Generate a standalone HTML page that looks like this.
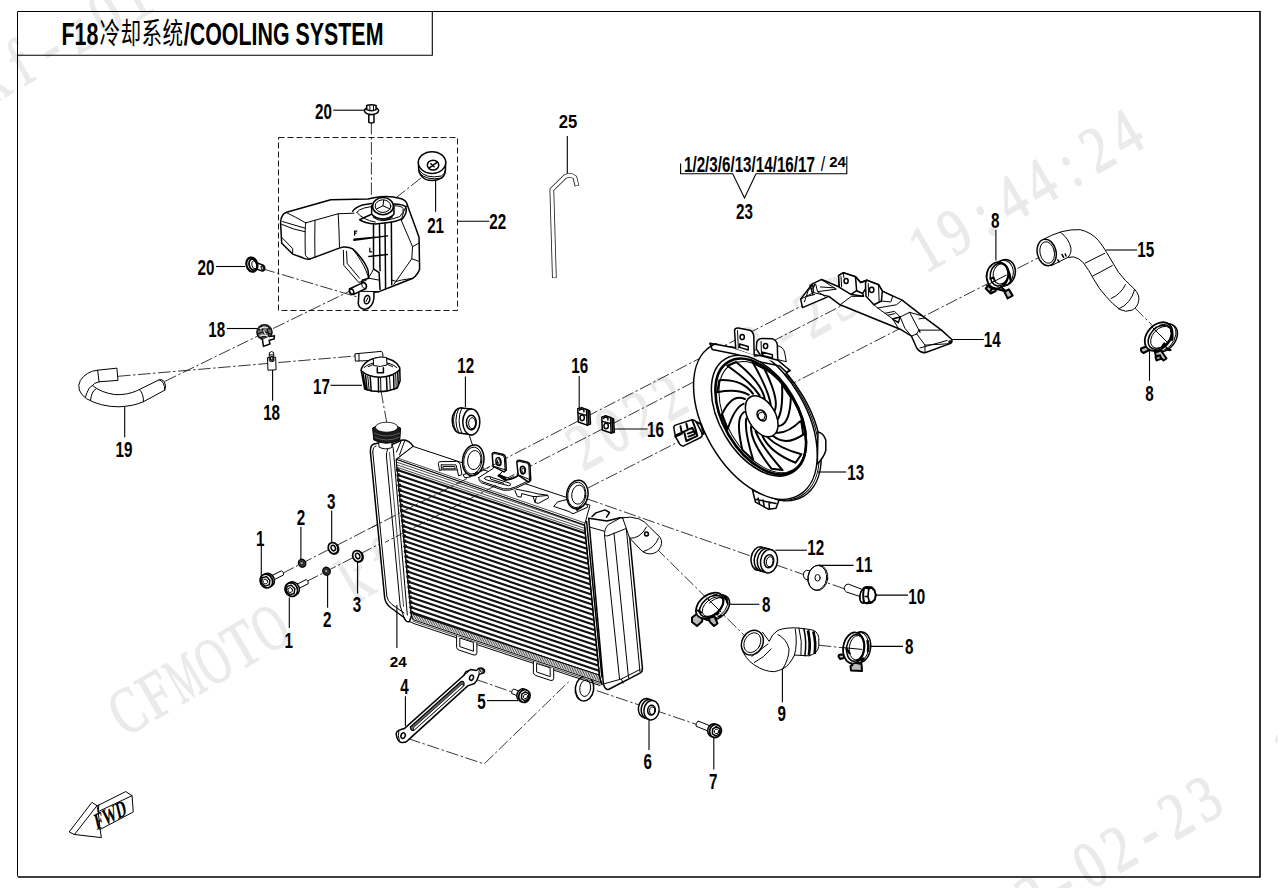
<!DOCTYPE html>
<html><head><meta charset="utf-8"><title>F18 Cooling System</title>
<style>
html,body{margin:0;padding:0;background:#fff;}
body{width:1278px;height:888px;overflow:hidden;font-family:"Liberation Sans",sans-serif;}
svg{display:block;position:absolute;left:0;top:0;}
svg text{font-family:"Liberation Sans",sans-serif;fill:#000;}
.p,.pw,.pt,.ptw,.pk,.pkw,.bk,.g3{vector-effect:non-scaling-stroke;}
.p{fill:none;stroke:#000;stroke-width:1;stroke-linejoin:round;stroke-linecap:round;}
.pw{fill:#fff;stroke:#000;stroke-width:1;stroke-linejoin:round;stroke-linecap:round;}
.pt{fill:none;stroke:#000;stroke-width:0.7;stroke-linejoin:round;stroke-linecap:round;}
.ptw{fill:#fff;stroke:#000;stroke-width:0.7;stroke-linejoin:round;stroke-linecap:round;}
.pk{fill:none;stroke:#000;stroke-width:1.5;stroke-linejoin:round;stroke-linecap:round;}
.pkw{fill:#fff;stroke:#000;stroke-width:1.5;stroke-linejoin:round;stroke-linecap:round;}
.g3{fill:none;stroke:#333;stroke-width:0.8;stroke-linejoin:round;stroke-linecap:round;}
.bk{fill:#000;stroke:#000;stroke-width:0.5;}
.ld{fill:none;stroke:#000;stroke-width:1.1;}
.dd{fill:none;stroke:#111;stroke-width:0.85;stroke-dasharray:12.5 2.6 2.4 2.6;}
.ds{fill:none;stroke:#000;stroke-width:0.9;stroke-dasharray:6 3;}
.wm text{font-family:"Liberation Serif",serif;fill:#eaeaea;stroke:#eaeaea;stroke-width:1.2px;}
svg text.cjk{font-family:"Liberation Sans","Noto Sans CJK SC",sans-serif;}
</style></head><body>
<svg width="1278" height="888" viewBox="0 0 1278 888">
<rect width="1278" height="888" fill="#fff"/>
<!-- 00_wm.py -->
<g class="wm"><g transform="translate(124,738) rotate(-30.08)"><text transform="translate(16.5,0) scale(0.715,1)" text-anchor="middle" font-size="66">C</text><text transform="translate(49.4,0) scale(0.800,1)" text-anchor="middle" font-size="66">F</text><text transform="translate(82.4,0) scale(0.536,1)" text-anchor="middle" font-size="66">M</text><text transform="translate(115.4,0) scale(0.660,1)" text-anchor="middle" font-size="66">O</text><text transform="translate(148.3,0) scale(0.780,1)" text-anchor="middle" font-size="66">T</text><text transform="translate(181.3,0) scale(0.660,1)" text-anchor="middle" font-size="66">O</text><text transform="translate(280.2,0) scale(0.800,1)" text-anchor="middle" font-size="66">k</text><text transform="translate(313.1,0) scale(0.800,1)" text-anchor="middle" font-size="66">f</text><text transform="translate(346.1,0) scale(0.800,1)" text-anchor="middle" font-size="66">-</text><text transform="translate(379.0,0) scale(0.800,1)" text-anchor="middle" font-size="66">z</text><text transform="translate(412.0,0) scale(0.800,1)" text-anchor="middle" font-size="66">0</text><text transform="translate(445.0,0) scale(0.800,1)" text-anchor="middle" font-size="66">1</text><text transform="translate(543.8,0) scale(0.800,1)" text-anchor="middle" font-size="66">2</text><text transform="translate(576.8,0) scale(0.800,1)" text-anchor="middle" font-size="66">0</text><text transform="translate(609.8,0) scale(0.800,1)" text-anchor="middle" font-size="66">2</text><text transform="translate(642.7,0) scale(0.800,1)" text-anchor="middle" font-size="66">2</text><text transform="translate(675.7,0) scale(0.800,1)" text-anchor="middle" font-size="66">-</text><text transform="translate(708.6,0) scale(0.800,1)" text-anchor="middle" font-size="66">0</text><text transform="translate(741.6,0) scale(0.800,1)" text-anchor="middle" font-size="66">2</text><text transform="translate(774.6,0) scale(0.800,1)" text-anchor="middle" font-size="66">-</text><text transform="translate(807.5,0) scale(0.800,1)" text-anchor="middle" font-size="66">2</text><text transform="translate(840.5,0) scale(0.800,1)" text-anchor="middle" font-size="66">3</text><text transform="translate(939.4,0) scale(0.800,1)" text-anchor="middle" font-size="66">1</text><text transform="translate(972.3,0) scale(0.800,1)" text-anchor="middle" font-size="66">9</text><text transform="translate(1005.3,0) scale(0.800,1)" text-anchor="middle" font-size="66">:</text><text transform="translate(1038.2,0) scale(0.800,1)" text-anchor="middle" font-size="66">4</text><text transform="translate(1071.2,0) scale(0.800,1)" text-anchor="middle" font-size="66">4</text><text transform="translate(1104.2,0) scale(0.800,1)" text-anchor="middle" font-size="66">:</text><text transform="translate(1137.1,0) scale(0.800,1)" text-anchor="middle" font-size="66">2</text><text transform="translate(1170.1,0) scale(0.800,1)" text-anchor="middle" font-size="66">4</text></g><g transform="translate(-240,239) rotate(-30.08)"><text transform="translate(16.5,0) scale(0.715,1)" text-anchor="middle" font-size="66">C</text><text transform="translate(49.4,0) scale(0.800,1)" text-anchor="middle" font-size="66">F</text><text transform="translate(82.4,0) scale(0.536,1)" text-anchor="middle" font-size="66">M</text><text transform="translate(115.4,0) scale(0.660,1)" text-anchor="middle" font-size="66">O</text><text transform="translate(148.3,0) scale(0.780,1)" text-anchor="middle" font-size="66">T</text><text transform="translate(181.3,0) scale(0.660,1)" text-anchor="middle" font-size="66">O</text><text transform="translate(280.2,0) scale(0.800,1)" text-anchor="middle" font-size="66">k</text><text transform="translate(313.1,0) scale(0.800,1)" text-anchor="middle" font-size="66">f</text><text transform="translate(346.1,0) scale(0.800,1)" text-anchor="middle" font-size="66">-</text><text transform="translate(379.0,0) scale(0.800,1)" text-anchor="middle" font-size="66">z</text><text transform="translate(412.0,0) scale(0.800,1)" text-anchor="middle" font-size="66">0</text><text transform="translate(445.0,0) scale(0.800,1)" text-anchor="middle" font-size="66">1</text><text transform="translate(543.8,0) scale(0.800,1)" text-anchor="middle" font-size="66">2</text><text transform="translate(576.8,0) scale(0.800,1)" text-anchor="middle" font-size="66">0</text><text transform="translate(609.8,0) scale(0.800,1)" text-anchor="middle" font-size="66">2</text><text transform="translate(642.7,0) scale(0.800,1)" text-anchor="middle" font-size="66">2</text><text transform="translate(675.7,0) scale(0.800,1)" text-anchor="middle" font-size="66">-</text><text transform="translate(708.6,0) scale(0.800,1)" text-anchor="middle" font-size="66">0</text><text transform="translate(741.6,0) scale(0.800,1)" text-anchor="middle" font-size="66">2</text><text transform="translate(774.6,0) scale(0.800,1)" text-anchor="middle" font-size="66">-</text><text transform="translate(807.5,0) scale(0.800,1)" text-anchor="middle" font-size="66">2</text><text transform="translate(840.5,0) scale(0.800,1)" text-anchor="middle" font-size="66">3</text><text transform="translate(939.4,0) scale(0.800,1)" text-anchor="middle" font-size="66">1</text><text transform="translate(972.3,0) scale(0.800,1)" text-anchor="middle" font-size="66">9</text><text transform="translate(1005.3,0) scale(0.800,1)" text-anchor="middle" font-size="66">:</text><text transform="translate(1038.2,0) scale(0.800,1)" text-anchor="middle" font-size="66">4</text><text transform="translate(1071.2,0) scale(0.800,1)" text-anchor="middle" font-size="66">4</text><text transform="translate(1104.2,0) scale(0.800,1)" text-anchor="middle" font-size="66">:</text><text transform="translate(1137.1,0) scale(0.800,1)" text-anchor="middle" font-size="66">2</text><text transform="translate(1170.1,0) scale(0.800,1)" text-anchor="middle" font-size="66">4</text></g><g transform="translate(488,1239) rotate(-30.08)"><text transform="translate(16.5,0) scale(0.715,1)" text-anchor="middle" font-size="66">C</text><text transform="translate(49.4,0) scale(0.800,1)" text-anchor="middle" font-size="66">F</text><text transform="translate(82.4,0) scale(0.536,1)" text-anchor="middle" font-size="66">M</text><text transform="translate(115.4,0) scale(0.660,1)" text-anchor="middle" font-size="66">O</text><text transform="translate(148.3,0) scale(0.780,1)" text-anchor="middle" font-size="66">T</text><text transform="translate(181.3,0) scale(0.660,1)" text-anchor="middle" font-size="66">O</text><text transform="translate(280.2,0) scale(0.800,1)" text-anchor="middle" font-size="66">k</text><text transform="translate(313.1,0) scale(0.800,1)" text-anchor="middle" font-size="66">f</text><text transform="translate(346.1,0) scale(0.800,1)" text-anchor="middle" font-size="66">-</text><text transform="translate(379.0,0) scale(0.800,1)" text-anchor="middle" font-size="66">z</text><text transform="translate(412.0,0) scale(0.800,1)" text-anchor="middle" font-size="66">0</text><text transform="translate(445.0,0) scale(0.800,1)" text-anchor="middle" font-size="66">1</text><text transform="translate(543.8,0) scale(0.800,1)" text-anchor="middle" font-size="66">2</text><text transform="translate(576.8,0) scale(0.800,1)" text-anchor="middle" font-size="66">0</text><text transform="translate(609.8,0) scale(0.800,1)" text-anchor="middle" font-size="66">2</text><text transform="translate(642.7,0) scale(0.800,1)" text-anchor="middle" font-size="66">2</text><text transform="translate(675.7,0) scale(0.800,1)" text-anchor="middle" font-size="66">-</text><text transform="translate(708.6,0) scale(0.800,1)" text-anchor="middle" font-size="66">0</text><text transform="translate(741.6,0) scale(0.800,1)" text-anchor="middle" font-size="66">2</text><text transform="translate(774.6,0) scale(0.800,1)" text-anchor="middle" font-size="66">-</text><text transform="translate(807.5,0) scale(0.800,1)" text-anchor="middle" font-size="66">2</text><text transform="translate(840.5,0) scale(0.800,1)" text-anchor="middle" font-size="66">3</text><text transform="translate(939.4,0) scale(0.800,1)" text-anchor="middle" font-size="66">1</text><text transform="translate(972.3,0) scale(0.800,1)" text-anchor="middle" font-size="66">9</text><text transform="translate(1005.3,0) scale(0.800,1)" text-anchor="middle" font-size="66">:</text><text transform="translate(1038.2,0) scale(0.800,1)" text-anchor="middle" font-size="66">4</text><text transform="translate(1071.2,0) scale(0.800,1)" text-anchor="middle" font-size="66">4</text><text transform="translate(1104.2,0) scale(0.800,1)" text-anchor="middle" font-size="66">:</text><text transform="translate(1137.1,0) scale(0.800,1)" text-anchor="middle" font-size="66">2</text><text transform="translate(1170.1,0) scale(0.800,1)" text-anchor="middle" font-size="66">4</text></g></g>
<!-- 01_frame.py -->
<path d="M17.5,876.5V11.5H1260" fill="none" stroke="#000" stroke-width="1"/>
<path d="M1260,11V877H18" fill="none" stroke="#000" stroke-width="1.6"/>
<path d="M17.5,55.2H432.3V11.5" fill="none" stroke="#000" stroke-width="1.1"/>
<g transform="translate(61.5,44.6) scale(0.69,1)"><text x="0.00" font-size="31" font-weight="bold">F</text><text x="18.94" font-size="31" font-weight="bold">1</text><text x="36.18" font-size="31" font-weight="bold">8</text></g>
<text class="cjk" transform="translate(99.5,43.6) scale(0.7097,1)" font-size="29">冷</text>
<text class="cjk" transform="translate(120.5,43.6) scale(0.7097,1)" font-size="29">却</text>
<text class="cjk" transform="translate(141.5,43.6) scale(0.7097,1)" font-size="29">系</text>
<text class="cjk" transform="translate(162.5,43.6) scale(0.7097,1)" font-size="29">统</text>
<g transform="translate(183.8,44.6) scale(0.69,1)"><text x="0.00" font-size="31" font-weight="bold">/</text><text x="8.61" font-size="31" font-weight="bold">C</text><text x="31.00" font-size="31" font-weight="bold">O</text><text x="55.11" font-size="31" font-weight="bold">O</text><text x="79.23" font-size="31" font-weight="bold">L</text><text x="98.16" font-size="31" font-weight="bold">I</text><text x="106.77" font-size="31" font-weight="bold">N</text><text x="129.16" font-size="31" font-weight="bold">G</text><text x="153.27" font-size="31" font-weight="bold"> </text><text x="161.89" font-size="31" font-weight="bold">S</text><text x="182.56" font-size="31" font-weight="bold">Y</text><text x="203.24" font-size="31" font-weight="bold">S</text><text x="223.92" font-size="31" font-weight="bold">T</text><text x="242.85" font-size="31" font-weight="bold">E</text><text x="263.53" font-size="31" font-weight="bold">M</text></g>
<!-- 10_lines.py -->
<path class="dd" d="M371.4,122.0L371.4,200.0"/>
<path class="dd" d="M421.0,178.0L397.0,197.0"/>
<path class="dd" d="M262.6,268.8L358.4,297.3"/>
<path class="dd" d="M164.8,381.4L350.0,291.0"/>
<path class="dd" d="M118.0,376.3L355.0,356.0"/>
<path class="dd" d="M381.0,391.0L387.0,424.0"/>
<path class="dd" d="M282.6,573.3L848.0,282.0"/>
<path class="dd" d="M306.9,581.4L872.0,290.0"/>
<path class="dd" d="M588.0,488.0L1045.0,254.4"/>
<path class="dd" d="M1134.6,307.7L1168.0,341.0"/>
<path class="dd" d="M586.0,498.5L845.0,589.0"/>
<path class="dd" d="M656.0,548.0L752.0,643.0"/>
<path class="dd" d="M818.8,645.2L843.0,647.8"/>
<path class="dd" d="M596.9,690.7L696.9,724.5"/>
<path class="dd" d="M475.8,679.4L512.4,692.1"/>
<path class="dd" d="M408.2,738.6L484.2,763.9L568.7,681.7"/>
<!-- 20_tank.svg -->
<path class="ds" d="M278.5,137.5H457.5V310.5H278.5Z"/>
<g transform="translate(275,150) scale(0.18587)">
<!-- tank silhouette -->
<path class="pkw" d="M30,390 Q32,345 62,335 L300,268 L500,264 L540,255 Q610,242 680,262 Q708,272 712,296 L775,470 L778,640 Q770,668 742,690 L640,730 L560,762 L532,766 L532,800 Q524,850 488,856 Q455,858 448,828 L452,760 L470,700 L505,690 L500,645 Q480,590 418,532 Q395,520 368,522 L345,528 L190,586 Q170,590 150,580 L95,560 L36,502 Z"/>
<!-- left block top/front faces -->
<path class="p" d="M62,337 Q110,360 165,392 M165,392 L340,343 L425,340 M165,392 Q160,400 163,560 Q165,580 190,586 M215,378 Q213,480 215,578 M340,343 Q345,430 347,522 M36,400 Q100,430 163,440 M36,470 L95,530 L95,560 M40,385 L160,420"/>
<!-- filler raised ring -->
<path class="pk" d="M418,330 Q430,310 470,296 L520,288 M640,290 Q690,292 702,305 Q715,330 690,365 Q660,385 600,392 L540,398 Q480,395 455,375 Z"/>
<path class="p" d="M440,335 Q450,320 480,312 L515,305 M645,300 Q680,300 690,315 Q695,335 672,358 Q640,372 590,378 M440,335 Q470,375 540,388"/>
<!-- neck -->
<path class="pkw" d="M520,300 L520,345 Q540,372 580,372 Q620,372 640,345 L640,300"/>
<ellipse class="pkw" cx="581" cy="302" rx="56" ry="46"/>
<ellipse class="p" cx="581" cy="302" rx="42" ry="34"/>
<path class="p" d="M545,318 L581,300 L620,318 M581,300 L585,270 M524,350 Q580,392 636,350 M528,362 Q580,400 632,362"/>
<!-- body vertical lines -->
<path class="pk" d="M530,400 L530,640 L560,660 L565,750 M562,400 L565,650 M592,395 L595,745 M626,390 L628,725"/>
<!-- level marks -->
<path class="pk" d="M425,486 L605,462 M425,480 L540,470 M505,573 L605,562"/>
<path class="pk" d="M428,458 L428,436 L440,436 M428,447 L437,447 M510,548 L510,528 M510,548 L520,548" style="stroke-width:1.2"/>
<!-- right facets -->
<path class="p" d="M712,296 Q690,320 680,380 L740,520 L736,585 L640,722 M740,520 L776,500 M736,585 L777,600 M690,365 L680,380 M628,700 Q650,715 680,700 L742,690"/>
<!-- lower-left panel -->
<path class="p" d="M368,540 L370,620 L450,712 L490,702 M385,545 L388,610 L455,690 M418,532 Q470,600 490,650 L505,690 M470,700 Q500,700 520,660 L530,640 M505,690 L560,700 M452,760 L560,762"/>
<!-- nozzle -->
<path class="pkw" d="M400,748 L470,715 Q490,712 492,730 L490,745 L420,778 Q400,778 400,748Z"/>
<ellipse class="pk" cx="412" cy="762" rx="11" ry="15" transform="rotate(-25 412 762)"/>
<ellipse class="p" cx="480" cy="728" rx="12" ry="18" transform="rotate(-25 480 728)"/>
<!-- tab hole -->
<ellipse class="pk" cx="495" cy="805" rx="15" ry="23" transform="rotate(12 495 805)"/>
<path class="p" d="M490,815 L500,795"/>
</g>
<!-- cap 21 -->
<g transform="translate(260,90) scale(0.25907)">
<path class="pkw" d="M612,300 Q612,330 640,345 Q670,356 700,340 Q718,328 716,300 L716,275 L612,275Z"/>
<path class="p" d="M614,310 Q640,345 700,332 Q714,325 716,308 M614,320 Q645,352 700,340"/>
<ellipse class="pkw" cx="664" cy="280" rx="53" ry="42"/>
<ellipse class="pk" cx="668" cy="290" rx="22" ry="19"/>
<path class="pk" d="M655,300 L682,280 M660,285 L672,296" />
</g>
<!-- bolt 20 top -->
<g transform="translate(260,90) scale(0.25907)">
<path class="pkw" d="M420,95 L420,125 Q430,130 440,125 L440,95Z"/>
<path class="pkw" d="M403,78 Q403,92 430,95 Q458,92 458,78 Q450,66 430,66 Q410,66 403,78Z"/>
<path class="pkw" d="M412,60 L412,76 Q430,84 448,76 L448,60 Q430,54 412,60Z"/>
<path class="p" d="M424,62 V80 M438,62 V80"/>
</g>
<!-- bolt 20 left -->
<g transform="translate(235,250) scale(0.11261)">
<path class="pkw" d="M175,105 L250,135 Q270,150 262,175 Q250,190 235,185 L170,160Z"/>
<ellipse cx="245" cy="160" rx="12" ry="22" transform="rotate(-20 245 160)" fill="#222" stroke="#000" stroke-width="1" vector-effect="non-scaling-stroke"/>
<ellipse cx="243" cy="160" rx="5" ry="12" transform="rotate(-20 243 160)" fill="#ccc"/>
<ellipse class="pkw" cx="150" cy="130" rx="48" ry="64" transform="rotate(-15 150 130)" style="stroke-width:2.2"/>
<ellipse class="pk" cx="160" cy="130" rx="34" ry="50" transform="rotate(-15 160 130)" style="stroke-width:1.8"/>
<ellipse class="p" cx="172" cy="132" rx="22" ry="36" transform="rotate(-15 172 132)"/>
</g>

<!-- 21_hose19.svg -->
<g transform="translate(60,300) scale(0.20345)">
<!-- hose 19 -->
<path class="pw" d="M185,345 Q130,350 100,395 Q75,445 130,485 Q200,525 290,525 Q360,522 410,500 L515,443 Q525,420 512,400 Q500,388 488,392 L380,445 Q330,468 270,465 Q200,455 160,420 Q165,408 192,402 L285,395 L280,337 Z"/>
<path class="p" d="M185,345 L192,402 M160,420 Q140,425 125,478 M175,438 Q155,450 150,492 M390,440 Q412,460 410,500 M488,392 Q515,400 515,443"/>
<!-- clamp 18 -->
<ellipse cx="1005" cy="158" rx="37" ry="36" fill="#777" stroke="#111" stroke-width="1.6" vector-effect="non-scaling-stroke"/>
<path d="M975,150 q30,-30 60,-5 M972,168 q34,-24 66,2 M985,185 q22,-12 40,2 M990,128 l20,60 M1015,125 l12,55" stroke="#111" stroke-width="1.3" fill="none" vector-effect="non-scaling-stroke"/>
<path d="M982,142 q20,-14 40,-4 M984,178 q18,-10 36,0 M1000,150 l10,18" stroke="#eee" stroke-width="1.2" fill="none" vector-effect="non-scaling-stroke"/>
<path class="pkw" d="M995,195 L1000,228 L1032,216 L1028,198 L1052,192 L1054,176 L1030,180"/>
<!-- clip 18 lower -->
<path class="pw" d="M1020,285 L1022,345 L1062,343 L1060,283Z"/>
<path class="pw" d="M1030,258 Q1040,248 1050,258 L1052,300 Q1040,308 1030,300Z"/>
<ellipse class="pk" cx="1041" cy="287" rx="7" ry="9"/>
<path class="p" d="M1030,270 H1050"/>
</g>
<!-- cap 17 -->
<g transform="translate(300,330) scale(0.20345)">
<path class="pw" d="M272,117 L400,105 Q408,108 408,130 L405,140 L350,150 L290,152 L274,153Z"/>
<path class="p" d="M290,116 V152"/>
<path class="pkw" d="M300,195 L318,290 Q395,318 478,285 L492,250 L490,185 Q470,140 395,135 Q320,140 300,195Z"/>
<path class="pk" d="M302,200 Q330,230 395,232 Q460,228 490,195"/>
<path class="p" d="M315,185 Q340,160 395,158 Q450,160 476,185 M335,180 Q360,165 395,165 Q435,165 455,180"/>
<path class="pw" d="M360,140 L362,175 Q395,185 428,172 L425,135 Q395,128 360,140Z"/>
<path class="pk" d="M380,185 V210 M410,185 V210 M380,210 H410"/>
<path class="pk" d="M322,222 L330,295 M345,230 L350,300 M385,234 L386,305 M425,232 L428,300 M460,222 L462,292 M480,205 L483,270 M310,215 L322,288"/>
<path class="p" d="M333,226 L340,297 M396,234 L398,305 M440,228 L444,297 M470,215 L473,283"/>
</g>
<!-- grommet 12 upper + ring handled in radiator -->
<g transform="translate(300,330) scale(0.20345)">
<ellipse class="pkw" cx="790" cy="445" rx="42" ry="62"/>
<path class="pkw" d="M790,383 L840,388 L840,512 L790,507Z" style="stroke:none"/>
<path class="pk" d="M790,383 L842,388 M790,507 L842,515"/>
<path class="p" d="M768,392 Q740,445 768,500 M780,386 Q752,445 780,505 M795,384 Q768,445 795,507"/>
<ellipse class="pkw" cx="842" cy="452" rx="42" ry="64"/>
<ellipse class="pk" cx="842" cy="455" rx="24" ry="36"/>
<ellipse class="p" cx="846" cy="458" rx="17" ry="27"/>
</g>

<!-- 40_fan.py -->
<clipPath id="fanclip"><path d="M650,322.5L900,401L900,560L650,560Z"/></clipPath>
<g clip-path="url(#fanclip)"><ellipse class="pkw" cx="759.4" cy="421.9" rx="50.6" ry="86.5" transform="rotate(-30.5 759.4 421.9)"/></g>
<g clip-path="url(#fanclip)"><ellipse class="p" cx="757.4" cy="421.2" rx="50.6" ry="86.5" transform="rotate(-30.5 757.4 421.2)"/></g>
<path class="pkw" d="M818,432 q5.5,1 7.8,8 l0,10.5 q-2,7 -8.5,13.5Z"/>
<path class="pkw" d="M752.5,490 l3,12.2 l13.2,7.1 l7.3,-1 l3,-8Z"/><path class="pk" d="M758,498 l1.5,5.5 M763,500 l1.2,6.5 M769,502 l0.4,6.5 M756,499.5 l20,4"/>
<g transform="translate(690,320) scale(0.214)"><path class="pw" d="M95,112 L210,128 L300,160 L410,185 L462,232 L440,260 L120,170Z"/><path class="pw" d="M410,120 q25,5 32,30 l8,45 l-40,-10Z"/><path class="pkw" d="M208,48 Q210,36 226,37 L280,48 Q296,55 298,76 L300,168 L214,138 Z"/><path class="p" d="M222,50 L226,132"/><ellipse class="pk" cx="244" cy="80" rx="10" ry="12"/><path class="pk" d="M232,112 L272,124 L272,140 L232,128Z"/><path class="pkw" d="M312,104 Q316,88 336,86 L386,88 Q405,95 408,116 L410,188 L330,166 L310,135 Z"/><path class="p" d="M332,100 L334,160"/><ellipse class="pk" cx="353" cy="122" rx="10" ry="12"/><path class="pk" d="M340,150 L385,162 L385,178 L340,166Z"/></g>
<g clip-path="url(#fanclip)"><ellipse class="pkw" cx="755.4" cy="420.4" rx="50.6" ry="86.5" transform="rotate(-30.5 755.4 420.4)"/></g>
<g transform="translate(690,320) scale(0.214)"><path class="pw" d="M214,138 L300,168 L302,190 L214,160Z" style="stroke:none"/><path class="pk" d="M93,109 L212,131 M300,168 L330,166 M410,188 L468,236 M104,138 L214,160 L302,190 L420,215 L452,246 M93,109 L104,138 M468,236 L452,246"/></g>
<ellipse class="pkw" cx="758.9" cy="415.7" rx="39.2" ry="66" transform="rotate(-30.5 758.9 415.7)"/>
<ellipse class="pk" cx="760.6999999999999" cy="416.5" rx="37" ry="63.5" transform="rotate(-30.5 760.6999999999999 416.5)" style="stroke-width:2.6"/>
<ellipse class="p" cx="762.3" cy="417.09999999999997" rx="35.2" ry="61" transform="rotate(-30.5 762.3 417.09999999999997)"/>
<path class="pk" d="M774.4,411.5Q780.0,400.7 764.4,368.8M770.8,405.3Q769.0,391.1 752.8,362.6M764.4,368.8L752.8,362.6M777.7,426.1Q789.7,426.2 790.9,397.5M777.2,420.0Q783.3,411.8 782.0,384.1M790.9,397.5L782.0,384.1M772.9,435.8Q785.8,446.7 803.2,434.6M775.9,432.6Q786.9,434.2 801.2,420.4M803.2,434.6L801.2,420.4M762.4,435.9Q770.1,452.6 795.6,462.7M767.4,437.1Q778.3,447.9 801.4,454.3M795.6,462.7L801.4,454.3M751.1,426.5Q749.9,441.1 771.6,468.8M755.7,431.6Q761.4,446.3 782.5,470.1M771.6,468.8L782.5,470.1M744.1,412.0Q734.7,417.6 742.4,449.9M746.3,418.4Q744.1,430.4 753.3,460.3M742.4,449.9L753.3,460.3M744.9,399.0Q731.7,393.1 721.7,414.9M743.6,403.9Q734.5,407.4 727.6,429.5M721.7,414.9L727.6,429.5M753.0,393.8Q742.1,379.1 719.3,380.2M748.8,394.8Q737.1,388.3 717.3,392.2M719.3,380.2L717.3,392.2M764.7,398.7Q761.2,382.1 736.1,362.0M759.6,395.4Q750.7,381.8 727.3,365.7M736.1,362.0L727.3,365.7" style="stroke-width:2.0"/>
<ellipse class="pkw" cx="761.7" cy="416.3" rx="13.6" ry="22.4" transform="rotate(-30.5 761.7 416.3)"/>
<ellipse class="pkw" cx="761.7" cy="415.5" rx="4.2" ry="5.8" transform="rotate(-30.5 761.7 415.5)"/>
<path class="p" d="M759.3000000000001,413.1 l3.8,-1.2 l2,3.4 l-1,3.6 l-3.6,1.2 l-2.2,-3.4Z"/>
<g transform="translate(540,340) scale(0.14634)"><path class="pkw" d="M915,600 Q912,585 930,580 L1040,545 Q1060,545 1068,560 L1108,640 Q1112,660 1095,668 L985,722 Q965,728 955,712 L925,660Z"/><path class="pk" d="M930,650 L1040,600 L1060,640 M985,625 L1000,690 L1075,655 L1060,600 M1010,640 L1050,625 M1015,660 L1055,645 M925,660 L960,645 M1040,545 L1060,600 M1068,560 L1100,575 L1120,640 L1108,640 M960,590 L970,640 M1000,572 L1010,610" style="stroke-width:2"/></g>
<!-- 41_bracket14.svg -->
<g transform="translate(780,240) scale(0.18779)">
<!-- silhouette -->
<path class="pkw" d="M110,315 L120,360 L260,300 L320,345 L640,475 L700,512 L728,575 Q745,600 772,600 L905,552 Q920,545 915,530 L860,480 L760,405 L650,320 L545,272 L525,238 L462,214 L430,226 L402,196 L338,174 L312,190 L316,250 L222,210 L172,234 Z"/>
<!-- left arm details -->
<path class="p" d="M110,315 L180,280 L260,300 M172,234 L180,280 M190,235 L200,275 L300,262 L222,212 M200,275 L240,300 M215,250 L290,255 M130,330 L150,270 L172,240 M145,300 L185,290"/>
<path class="pk" d="M160,240 L175,290 M185,236 L175,260"/>
<!-- tab 1 -->
<path class="pkw" d="M312,190 L338,174 L402,196 L408,270 L378,290 L316,252 Z"/>
<path class="p" d="M325,195 L328,250 M338,176 L340,200"/>
<ellipse class="pk" cx="352" cy="218" rx="11" ry="13"/>
<!-- middle notch -->
<path class="pk" d="M402,196 L430,226 L462,214 M408,270 L440,285 L445,300 L380,290 M440,285 L455,260 L462,216"/>
<!-- tab 2 -->
<path class="pkw" d="M455,228 L462,214 L525,238 L545,272 L540,325 L500,345 L458,300 Z"/>
<path class="p" d="M470,232 L472,300 M525,240 L528,330"/>
<ellipse class="pk" cx="488" cy="265" rx="12" ry="14"/>
<!-- body lines -->
<path class="p" d="M320,345 L380,300 L445,300 M545,272 L600,300 L590,330 L540,325 M500,345 L520,362 L620,345 L650,320 M520,362 L600,420 L640,410 L690,385 L760,405 M600,420 L630,470 M560,390 L610,380 L640,410 M575,400 L612,392 M640,410 L665,470 L700,512 M690,385 L740,480 L728,500 M740,480 L860,480 M740,420 L770,416 M728,500 L772,560 L905,552 M772,560 L772,600 M700,512 L728,500 M745,575 L890,535"/>
<path class="pk" d="M600,420 L640,410 L630,440 Z M740,480 L745,490"/>
<circle cx="905" cy="543" r="9" fill="#000"/>
</g>

<!-- 42_hose15.svg -->
<g transform="translate(960,195) scale(0.24768)">
<path class="pw" d="M335,180 Q370,160 410,148 Q450,138 485,140 Q530,150 560,185 Q580,210 592,232 L640,312 Q665,345 702,378 Q725,400 722,425 Q718,452 695,465 Q668,475 645,462 Q615,440 590,410 Q560,378 540,340 L520,305 Q500,270 480,258 Q460,245 435,252 L370,285 Z"/>
<ellipse class="pkw" cx="350" cy="232" rx="38" ry="54" transform="rotate(-12 350 232)"/>
<ellipse class="p" cx="352" cy="232" rx="29" ry="44" transform="rotate(-12 352 232)"/>
<path class="p" d="M405,150 Q440,175 448,215 Q450,240 435,252 M505,275 L585,235 M535,328 L615,285 M610,418 Q650,400 668,362 M640,460 Q690,440 705,382"/>
<path class="pk" d="M395,262 L400,270 M412,240 L418,252 M425,238 L428,246"/>
</g>

<!-- 43_hose9.svg -->
<g transform="translate(680,520) scale(0.24783)">
<path class="pw" d="M250,520 Q262,560 300,585 Q340,612 380,612 Q420,605 440,580 Q455,560 462,545 L520,548 Q555,540 560,510 L560,475 Q555,445 525,442 L480,436 Q430,432 395,445 Q370,460 360,490 L335,455 Z"/>
<path class="p" d="M290,550 L355,500 M300,575 Q340,555 368,520 M462,545 Q475,500 465,440 M480,436 Q495,490 488,546 M520,445 Q530,500 522,548 M540,448 Q550,495 545,540 M415,600 Q440,560 440,520 Q430,480 395,462"/>
<path d="M516,446 Q528,495 520,546 M538,450 Q550,495 543,540" stroke="#000" stroke-width="2.6" fill="none" vector-effect="non-scaling-stroke"/><path class="pk" d="M500,440 Q512,490 504,548"/>
<ellipse class="pkw" cx="292" cy="495" rx="42" ry="52" transform="rotate(28 292 495)"/>
<ellipse class="p" cx="292" cy="495" rx="32" ry="42" transform="rotate(28 292 495)"/>
</g>

<!-- 44_clamps.py -->
<ellipse class="pkw" cx="1004.5" cy="272.6" rx="10.8" ry="13.2" transform="rotate(12 1004.5 272.6)"/><ellipse class="p" cx="1002.4" cy="273.4" rx="10.8" ry="13.2" transform="rotate(12 1002.4 273.4)"/><path class="pkw" d="M985.7,288.5 l3,-3.5 l6,2 l1,4 l-5,2.5Z" style="stroke-width:2;fill:#bbb"/><path class="pkw" d="M1004.3,291.6 l4.5,-2.2 l3.9,6.2 l-5.1,2.8Z" style="stroke-width:2;fill:#bbb"/><ellipse class="pkw" cx="997.5" cy="275.3" rx="10.8" ry="13.2" transform="rotate(12 997.5 275.3)" style="stroke-width:1.8"/><ellipse class="pk" cx="999.2" cy="274.6" rx="8.9" ry="11.4" transform="rotate(12 999.2 274.6)"/><ellipse class="p" cx="1001.0" cy="273.9" rx="7.8" ry="10.3" transform="rotate(12 1001.0 273.9)"/>
<path d="M1007.5,269 q3,5 3,11" stroke="#000" stroke-width="2.2" fill="none" stroke-linecap="round"/><path d="M989.5,279 l4,-1.5 l1.5,4" stroke="#000" stroke-width="2" fill="none"/>
<path class="p" d="M990,283.5L1006,275.3"/>
<path d="M987,285.5 L992,288.5 L999,289.5 L1006,291.5 M992,288.5 L990,292 M1001,287 L1005,290.5" stroke="#000" stroke-width="2" fill="none" stroke-linecap="round"/>
<ellipse class="pkw" cx="1163.6" cy="338.0" rx="11.6" ry="16.2" transform="rotate(42 1163.6 338.0)"/><ellipse class="p" cx="1162.1" cy="337.6" rx="11.6" ry="16.2" transform="rotate(42 1162.1 337.6)"/><path class="pkw" d="M1141,348.5 l6.5,-2.5 l2.5,3.5 l-6.5,3.5 q-3,-1 -2.5,-4.5Z" style="stroke-width:2;fill:#bbb"/><path class="pkw" d="M1155,352.5 l6,-2 l5.5,8 l-3,2 l-5,-5 l-2.5,1Z" style="stroke-width:2;fill:#bbb"/><path class="pkw" d="M1155.5,357 l4.5,-1.6 l1,3.4 l-4.5,1.6Z" style="stroke-width:2;fill:#bbb"/><ellipse class="pkw" cx="1158.6" cy="336.6" rx="11.6" ry="16.2" transform="rotate(42 1158.6 336.6)" style="stroke-width:1.8"/><ellipse class="pk" cx="1159.8" cy="337.0" rx="9.5" ry="13.9" transform="rotate(42 1159.8 337.0)"/><ellipse class="p" cx="1161.1" cy="337.3" rx="8.4" ry="12.6" transform="rotate(42 1161.1 337.3)"/>
<path d="M1160.5,325.5 l3.5,0 M1171,330 q2.5,5 1,10 M1162,347.5 q1,-3 2.5,-4 M1166.5,348 q1.5,2.5 4,2" stroke="#000" stroke-width="2.2" fill="none" stroke-linecap="round"/>
<path class="p" d="M1151,326L1167.5,342.5"/>
<ellipse class="pkw" cx="715.8" cy="607.8000000000001" rx="10.4" ry="15.8" transform="rotate(50 715.8 607.8000000000001)"/><ellipse class="p" cx="714.0" cy="607.1" rx="10.4" ry="15.8" transform="rotate(50 714.0 607.1)"/><path class="pkw" d="M692,617.5 l6,-4.5 l5,3.5 l-1,5 l-5,4.5 l-5,-4Z" style="stroke-width:2;fill:#bbb"/><path class="pkw" d="M708.5,618 l6,-1.5 l3,7 l-3.5,2.5 l-4,-4Z" style="stroke-width:2;fill:#bbb"/><ellipse class="pkw" cx="709.8" cy="605.6" rx="10.4" ry="15.8" transform="rotate(50 709.8 605.6)" style="stroke-width:1.8"/><ellipse class="pk" cx="711.3" cy="606.1" rx="8.5" ry="13.6" transform="rotate(50 711.3 606.1)"/><ellipse class="p" cx="712.8" cy="606.7" rx="7.5" ry="12.3" transform="rotate(50 712.8 606.7)"/>
<path d="M713.5,595.5 l3,-0.5 M724.5,597 q2.5,3 3,6 M717,614.5 l1.5,-1.5 M719,616.5 l2,-0.5 M698,610.5 l3,2" stroke="#000" stroke-width="2.2" fill="none" stroke-linecap="round"/>
<path class="p" d="M707,598L721,612 M709.5,603Q714,598 721,597.5"/>
<ellipse class="pkw" cx="860.0" cy="647.4" rx="10.6" ry="15.6" transform="rotate(8 860.0 647.4)"/><ellipse class="p" cx="858.1" cy="647.6" rx="10.6" ry="15.6" transform="rotate(8 858.1 647.6)"/><path class="pkw" d="M838.5,656.5 q0,-2 2.5,-2 l3,0.5 l0,3 l-4,1Z" style="stroke-width:2;fill:#bbb"/><path class="pkw" d="M850.5,661 l5,-1 l1,3 l5,1 l0.5,7 l-11,-0.5 l-0.5,-4.5 l2,-1Z" style="stroke-width:2;fill:#bbb"/><ellipse class="pkw" cx="853.8" cy="648" rx="10.6" ry="15.6" transform="rotate(8 853.8 648)" style="stroke-width:1.8"/><ellipse class="pk" cx="855.3" cy="647.9" rx="8.7" ry="13.4" transform="rotate(8 855.3 647.9)"/><ellipse class="p" cx="856.9" cy="647.7" rx="7.6" ry="12.2" transform="rotate(8 856.9 647.7)"/>
<path d="M867.5,641 q1.5,5 0.5,10 M846.5,649 l3,4 M861,660 l2.5,-1.5" stroke="#000" stroke-width="2.4" fill="none" stroke-linecap="round"/>
<path class="p" d="M843,647.6L862,649.4"/>
<!-- 50_radiator.py -->
<path class="pkw" d="M370.4,452 Q370.2,445 374,444 L380,442.8 L392,444.6 L401.5,440.2 Q408,438.5 413.4,446.5 L396.5,459.5 L411.5,615.5 L409.5,621.5 Q406,623 404,617.5 L390.5,607.5 Q385,603 384.6,597 Z"/>
<path class="p" d="M372.8,452 Q373,446 376,446 M372.8,452 L386.8,596 Q387.5,601 392,604.5 L404,613"/>
<path class="p" d="M386.4,456 Q386,448 392,444.6 M386.4,456 L400.2,606 L404,617.5 M393.6,452.5 L407.3,615"/>
<path class="pt" d="M389.5,452.5 L403.6,606.5"/>
<path class="p" d="M392,444.6 Q394,449 393.6,452.5 M401.5,440.2 L396.5,452 M405,440 L399.5,455"/>
<path class="pw" d="M413.4,446.5 L590,505.2 L584.5,525 L396.5,459.5 Z"/>
<path class="pt" d="M398.2,458.2L585.0,523.0" />
<path class="pw" d="M396.5,459.5L584.5,525.0L599.5,675.2L411.5,613.6Z" />
<clipPath id="coreclip"><path d="M396.5,459.5L584.5,525.0L599.5,675.2L411.5,613.6Z"/></clipPath>
<g clip-path="url(#coreclip)"><path d="M397.5,469.9L610.0,541.7M398.0,475.0L610.0,546.6M398.5,480.1L610.0,551.6M399.0,485.2L610.0,556.5M399.5,490.2L610.0,561.4M400.0,495.3L610.0,566.3M400.5,500.4L610.0,571.2M401.0,505.5L610.0,576.2M401.5,510.6L610.0,581.1M402.0,515.7L610.0,586.0M402.5,520.8L610.0,590.9M403.0,525.9L610.0,595.8M403.5,530.9L610.0,600.8M403.9,536.0L610.0,605.7M404.4,541.1L610.0,610.6M404.9,546.2L610.0,615.5M405.4,551.3L610.0,620.4M405.9,556.4L610.0,625.4M406.4,561.5L610.0,630.3M406.9,566.6L610.0,635.2M407.4,571.6L610.0,640.1M407.9,576.7L610.0,645.0M408.4,581.8L610.0,650.0M408.9,586.9L610.0,654.9M409.4,592.0L610.0,659.8M409.9,597.1L610.0,664.7M410.4,602.2L610.0,669.6M410.9,607.3L610.0,674.6M411.4,612.3L610.0,679.5" fill="none" stroke="#111" stroke-width="2.1"/></g>
<g fill="#111"><circle cx="397.8" cy="469.9" r="1.9"/><circle cx="398.3" cy="475.0" r="1.9"/><circle cx="398.8" cy="480.1" r="1.9"/><circle cx="399.3" cy="485.2" r="1.9"/><circle cx="399.8" cy="490.2" r="1.9"/><circle cx="400.3" cy="495.3" r="1.9"/><circle cx="400.8" cy="500.4" r="1.9"/><circle cx="401.3" cy="505.5" r="1.9"/><circle cx="401.8" cy="510.6" r="1.9"/><circle cx="402.3" cy="515.7" r="1.9"/><circle cx="402.8" cy="520.8" r="1.9"/><circle cx="403.3" cy="525.9" r="1.9"/><circle cx="403.8" cy="530.9" r="1.9"/><circle cx="404.2" cy="536.0" r="1.9"/><circle cx="404.7" cy="541.1" r="1.9"/><circle cx="405.2" cy="546.2" r="1.9"/><circle cx="405.7" cy="551.3" r="1.9"/><circle cx="406.2" cy="556.4" r="1.9"/><circle cx="406.7" cy="561.5" r="1.9"/><circle cx="407.2" cy="566.6" r="1.9"/><circle cx="407.7" cy="571.6" r="1.9"/><circle cx="408.2" cy="576.7" r="1.9"/><circle cx="408.7" cy="581.8" r="1.9"/><circle cx="409.2" cy="586.9" r="1.9"/><circle cx="409.7" cy="592.0" r="1.9"/><circle cx="410.2" cy="597.1" r="1.9"/><circle cx="410.7" cy="602.2" r="1.9"/><circle cx="411.2" cy="607.3" r="1.9"/><circle cx="411.7" cy="612.3" r="1.9"/></g>
<g clip-path="url(#coreclip)"><path class="pt" d="M396.8,462.2L610,534.3"/></g>
<g clip-path="url(#coreclip)"><path class="pt" d="M397.0,464.9L610,536.9"/></g>
<g clip-path="url(#coreclip)"><path class="pt" d="M397.3,467.4L610,539.3"/></g>
<ellipse class="pkw" cx="584.5" cy="688.6" rx="9.2" ry="12.4" transform="rotate(8 584.5 688.6)"/>
<ellipse class="pw" cx="585.2" cy="688.2" rx="5.4" ry="8.3" transform="rotate(8 585.2 688.2)"/>
<path class="p" d="M575.6,686 q-0.8,8 3.5,12.6"/>
<path class="pw" d="M411.5,613.6L599.5,675.2L601.0,682.6L413.0,619.6Z" />
<path d="M413.7,614.4L411.8,618.4M415.3,614.9L413.4,618.9M416.9,615.4L415.0,619.5M418.4,616.0L416.5,620.0M420.0,616.5L418.1,620.5M421.6,617.0L419.7,621.0M423.2,617.5L421.3,621.6M424.8,618.0L422.9,622.1M426.3,618.5L424.4,622.6M427.9,619.1L426.0,623.2M429.5,619.6L427.6,623.7M431.1,620.1L429.2,624.2M432.7,620.6L430.8,624.8M434.2,621.1L432.3,625.3M435.8,621.6L433.9,625.8M437.4,622.2L435.5,626.3M439.0,622.7L437.1,626.9M440.6,623.2L438.7,627.4M442.1,623.7L440.2,627.9M443.7,624.2L441.8,628.5M445.3,624.8L443.4,629.0M446.9,625.3L445.0,629.5M448.5,625.8L446.6,630.0M450.0,626.3L448.1,630.6M451.6,626.8L449.7,631.1M453.2,627.3L451.3,631.6M454.8,627.9L452.9,632.2M456.4,628.4L454.5,632.7M457.9,628.9L456.0,633.2M459.5,629.4L457.6,633.8M461.1,629.9L459.2,634.3M462.7,630.4L460.8,634.8M464.3,631.0L462.4,635.3M465.8,631.5L463.9,635.9M467.4,632.0L465.5,636.4M469.0,632.5L467.1,636.9M470.6,633.0L468.7,637.5M472.2,633.6L470.3,638.0M473.7,634.1L471.8,638.5M475.3,634.6L473.4,639.0M476.9,635.1L475.0,639.6M478.5,635.6L476.6,640.1M480.1,636.1L478.2,640.6M481.6,636.7L479.7,641.2M483.2,637.2L481.3,641.7M484.8,637.7L482.9,642.2M486.4,638.2L484.5,642.8M488.0,638.7L486.1,643.3M489.5,639.2L487.6,643.8M491.1,639.8L489.2,644.3M492.7,640.3L490.8,644.9M494.3,640.8L492.4,645.4M495.9,641.3L494.0,645.9M497.4,641.8L495.5,646.5M499.0,642.4L497.1,647.0M500.6,642.9L498.7,647.5M502.2,643.4L500.3,648.0M503.8,643.9L501.9,648.6M505.3,644.4L503.4,649.1M506.9,644.9L505.0,649.6M508.5,645.5L506.6,650.2M510.1,646.0L508.2,650.7M511.6,646.5L509.7,651.2M513.2,647.0L511.3,651.8M514.8,647.5L512.9,652.3M516.4,648.0L514.5,652.8M518.0,648.6L516.1,653.3M519.5,649.1L517.6,653.9M521.1,649.6L519.2,654.4M522.7,650.1L520.8,654.9M524.3,650.6L522.4,655.5M525.9,651.2L524.0,656.0M527.4,651.7L525.5,656.5M529.0,652.2L527.1,657.0M530.6,652.7L528.7,657.6M532.2,653.2L530.3,658.1M533.8,653.7L531.9,658.6M535.3,654.3L533.4,659.2M536.9,654.8L535.0,659.7M538.5,655.3L536.6,660.2M540.1,655.8L538.2,660.8M541.7,656.3L539.8,661.3M543.2,656.8L541.3,661.8M544.8,657.4L542.9,662.3M546.4,657.9L544.5,662.9M548.0,658.4L546.1,663.4M549.6,658.9L547.7,663.9M551.1,659.4L549.2,664.5M552.7,660.0L550.8,665.0M554.3,660.5L552.4,665.5M555.9,661.0L554.0,666.0M557.5,661.5L555.6,666.6M559.0,662.0L557.1,667.1M560.6,662.5L558.7,667.6M562.2,663.1L560.3,668.2M563.8,663.6L561.9,668.7M565.4,664.1L563.5,669.2M566.9,664.6L565.0,669.8M568.5,665.1L566.6,670.3M570.1,665.6L568.2,670.8M571.7,666.2L569.8,671.3M573.3,666.7L571.4,671.9M574.8,667.2L572.9,672.4M576.4,667.7L574.5,672.9M578.0,668.2L576.1,673.5M579.6,668.8L577.7,674.0M581.2,669.3L579.3,674.5M582.7,669.8L580.8,675.0M584.3,670.3L582.4,675.6M585.9,670.8L584.0,676.1M587.5,671.3L585.6,676.6M589.1,671.9L587.2,677.2M590.6,672.4L588.7,677.7M592.2,672.9L590.3,678.2M593.8,673.4L591.9,678.8M595.4,673.9L593.5,679.3M597.0,674.4L595.1,679.8M598.5,675.0L596.6,680.3M600.1,675.5L598.2,680.9M601.7,676.0L599.8,681.4" fill="none" stroke="#222" stroke-width="0.8"/>
<path class="pt" d="M413.0,621.2L601.0,684.2" />
<path class="p" d="M409.5,621.5L414.0,623.6L600.0,685.5" />
<path class="pw" d="M456.6,636.0 l0,11.5 q0.5,2 2.5,2.6 l15,5 q2.6,0.4 2.8,-2.2 l0,-9.6"/><path class="p" d="M459.8,638.4 l0,8.2 l13.6,4.6 l0,-8.4 Z"/>
<path class="pw" d="M533.4,661.4 l0,11.5 q0.5,2 2.5,2.6 l15,5 q2.6,0.4 2.8,-2.2 l0,-9.6"/><path class="p" d="M536.6,663.8 l0,8.2 l13.6,4.6 l0,-8.4 Z"/>
<path class="pkw" d="M588.7,518.3 L607,521 L620,517.8 Q627,516.8 628.6,524 L629.2,531.8 L642.4,668 Q642.8,671.5 640,673.2 L608.5,689.5 Q605,690 603.4,684 Z"/>
<path class="pk" d="M584.5,525 L599.5,677 L602,684.5 M586.6,521.5 L601.8,676"/>
<path class="p" d="M590.4,527.3 L604.2,531.2 M604.5,535 Q604.2,528.5 608.4,524.6 L619.7,518.3 M609.5,535.2 L626.4,528.4 M604.5,535 Q606,537 609.5,535.2 M604.5,535 L619.6,679.5 M614,533 L628.5,677.5 M626.4,529.5 L640,672 M603.4,684 L621.4,679 L640,669.5 M621.4,679 L623,683"/>
<path class="pk" d="M592,516.5 l4,-3.6 l9,-3 l4.5,2.6 l-3,4.6"/>
<path class="pw" d="M623,517.7 Q630,516 638.8,518.8 Q645,521 650,527.5 L660.2,537.4 Q663.5,543 659,549.8 Q654,555 647,553.6 Q643,552.6 640,549 L629.8,538.2 Z"/>
<path class="p" d="M629.8,538.2 Q640,539 646.5,527 M643.5,551.5 Q655,548 658.5,538"/>
<circle class="pk" cx="646.5" cy="534" r="1.9"/>
<!-- 51_radtop.svg -->
<!-- filler neck cap -->
<path class="pw" d="M378.6,441 L379,447 Q385,450.5 391.8,447.5 L392,441Z"/>
<path d="M372.6,428 L373.8,440 Q386,446.5 399.8,440 L400.6,428 Q386,419 372.6,428Z" fill="#1a1a1a" stroke="#000" stroke-width="1"/>
<path d="M374,433 q12,6 26,0 M374.5,437 q12,6 25,0" stroke="#777" stroke-width="0.7" fill="none"/>
<ellipse cx="386.6" cy="427.2" rx="11.2" ry="5" fill="#fff" stroke="#000" stroke-width="0.8"/>
<!-- brackets on top (zoom space 430,430 scale 7.518) -->
<g transform="translate(430,430) scale(0.13301)">
<!-- small left bracket -->
<path class="pw" d="M62,250 Q60,240 75,238 L200,236 Q225,240 228,262 L240,335 L215,345 L205,300 L85,300 L75,305 Z"/>
<path class="p" d="M85,262 L195,262 L205,300 M85,262 L85,300 M100,275 L185,275 L190,292 L100,292Z"/>
<!-- left ring -->
<path class="pw" d="M250,340 L262,360 L290,355 L400,300 L398,280 Z"/>
<ellipse class="pkw" cx="325" cy="228" rx="80" ry="116" transform="rotate(8 325 228)"/>
<ellipse class="pw" cx="333" cy="226" rx="50" ry="72" transform="rotate(8 333 226)"/>
<ellipse class="p" cx="322" cy="230" rx="68" ry="102" transform="rotate(8 322 230)"/>
<path d="M325,330 L355,308 L362,318 L335,338Z" fill="#000"/>
<!-- two-tab bracket base -->
</g>
<g transform="translate(475,445) scale(0.0626)">
<path class="pw" d="M60,520 L290,375 L300,340 L465,400 L370,490 L480,560 Q620,545 690,485 L700,480 L885,560 L880,585 L650,692 Q560,735 450,722 L100,602 Q55,582 60,520Z"/>
<path class="p" d="M150,532 Q158,500 222,502 L560,612 Q592,640 540,652 L200,562 Q150,552 150,532Z M240,510 L250,545 L460,612 M90,560 Q100,580 130,590 L455,700 Q560,712 640,672 L870,565"/>
<path class="pk" d="M370,490 L480,560 M385,470 L490,535 M480,560 Q620,545 690,485"/>
<!-- tab1 -->
<path class="pkw" d="M275,150 Q275,118 310,118 L440,148 Q485,160 488,205 L500,400 L465,430 L290,342 Z"/>
<path class="p" d="M292,150 Q292,135 312,135 L430,162 Q468,172 470,210 L480,395 M290,342 L300,340 L480,395 L500,400"/>
<ellipse class="pk" cx="375" cy="265" rx="40" ry="64" transform="rotate(-8 375 265)"/>
<ellipse class="p" cx="382" cy="270" rx="24" ry="42" transform="rotate(-8 382 270)"/>
<!-- tab2 -->
<path class="pkw" d="M668,275 Q668,245 705,245 L830,272 Q875,285 878,330 L890,560 L850,590 L690,480 Z"/>
<path class="p" d="M686,275 Q686,262 706,262 L822,288 Q858,298 860,335 L870,550 M690,480 L700,480 L870,550 L890,560"/>
<ellipse class="pk" cx="765" cy="400" rx="40" ry="62" transform="rotate(-8 765 400)"/>
<ellipse class="p" cx="772" cy="405" rx="24" ry="40" transform="rotate(-8 772 405)"/>
</g>
<g transform="translate(430,430) scale(0.13301)">
<!-- right small bracket -->
<path class="pw" d="M640,455 L650,445 L770,470 L810,480 L885,490 L892,510 L815,552 L790,545 L775,500 L690,478 L685,505 L660,500 Z"/>
<path class="p" d="M790,545 L800,500 L885,492 M775,500 L800,500"/>
<!-- right ring -->
<path class="pw" d="M932,572 L960,540 L1040,520 L1180,560 L1185,580 L1075,630 L1050,615 Z"/>
<ellipse class="pkw" cx="1108" cy="485" rx="80" ry="108" transform="rotate(8 1108 485)"/>
<ellipse class="pw" cx="1116" cy="486" rx="50" ry="72" transform="rotate(8 1116 486)"/>
<ellipse class="p" cx="1104" cy="488" rx="68" ry="96" transform="rotate(8 1104 488)"/>
<path d="M1095,600 L1135,572 L1142,582 L1105,610Z" fill="#000"/>
</g>

<!-- 52_radlines.svg -->
<path class="dd" d="M369,528.8L499.4,462" stroke-dashoffset="3"/>
<path class="dd" d="M385,542.4L522.8,471.6" stroke-dashoffset="8"/>
<path class="p" d="M469.5,436L472.5,445"/>

<!-- 60_hardware.py -->
<path class="pw" d="M267.4,583.1L283.6,574.9Q283.9,572.1 281.6,570.7L265.4,578.9Z"/><ellipse class="pkw" cx="268.2" cy="580.1" rx="6.1" ry="7.0" transform="rotate(-27 268.2 580.1)"/><ellipse class="pkw" cx="266.4" cy="581.0" rx="6.1" ry="7.0" transform="rotate(-27 266.4 581.0)" style="stroke-width:1.8"/><path class="pk" d="M269.9,580.2L269.2,584.9L264.9,586.1L261.4,582.5L262.2,577.8L266.4,576.6Z"/><ellipse class="p" cx="265.3" cy="581.5" rx="2.2" ry="2.5" transform="rotate(-27 265.3 581.5)"/>
<path class="pw" d="M292.3,591.7L308.3,583.7Q308.6,580.9 306.3,579.5L290.3,587.5Z"/><ellipse class="pkw" cx="293.1" cy="588.7" rx="6.1" ry="7.0" transform="rotate(-27 293.1 588.7)"/><ellipse class="pkw" cx="291.3" cy="589.6" rx="6.1" ry="7.0" transform="rotate(-27 291.3 589.6)" style="stroke-width:1.8"/><path class="pk" d="M294.8,588.8L294.1,593.5L289.8,594.7L286.3,591.1L287.1,586.4L291.3,585.2Z"/><ellipse class="p" cx="290.2" cy="590.1" rx="2.2" ry="2.5" transform="rotate(-27 290.2 590.1)"/>
<ellipse cx="302.1" cy="563.2" rx="3.7" ry="4.1" transform="rotate(-25 302.1 563.2)" fill="#333" stroke="#000" stroke-width="1.2"/><ellipse cx="301.8" cy="563.0" rx="1.6" ry="1.8" transform="rotate(-25 302.1 563.2)" fill="#999" stroke="#000" stroke-width="0.6"/>
<ellipse cx="326.5" cy="571.2" rx="3.7" ry="4.1" transform="rotate(-25 326.5 571.2)" fill="#333" stroke="#000" stroke-width="1.2"/><ellipse cx="326.2" cy="571.0" rx="1.6" ry="1.8" transform="rotate(-25 326.5 571.2)" fill="#999" stroke="#000" stroke-width="0.6"/>
<ellipse class="pkw" cx="333.90000000000003" cy="548.4" rx="4.7" ry="5.7" transform="rotate(-25 333.90000000000003 548.4)"/><ellipse class="pkw" cx="333.1" cy="548.1" rx="4.7" ry="5.7" transform="rotate(-25 333.1 548.1)" style="stroke-width:1.7"/><ellipse class="pk" cx="333.3" cy="548.1" rx="2.1" ry="2.9" transform="rotate(-25 333.1 548.1)"/>
<ellipse class="pkw" cx="358.3" cy="556.4" rx="4.7" ry="5.7" transform="rotate(-25 358.3 556.4)"/><ellipse class="pkw" cx="357.5" cy="556.1" rx="4.7" ry="5.7" transform="rotate(-25 357.5 556.1)" style="stroke-width:1.7"/><ellipse class="pk" cx="357.7" cy="556.1" rx="2.1" ry="2.9" transform="rotate(-25 357.5 556.1)"/>
<path class="pw" d="M525.3,693.7L513.5,688.9Q511.2,690.6 511.7,693.5L523.5,698.3Z"/><ellipse class="pkw" cx="522.5" cy="695.2" rx="5.6" ry="6.4" transform="rotate(20 522.5 695.2)"/><ellipse class="pkw" cx="524.4" cy="696.0" rx="5.6" ry="6.4" transform="rotate(20 524.4 696.0)" style="stroke-width:1.8"/><path class="pk" d="M528.6,698.4L525.0,700.8L521.5,698.7L521.7,694.2L525.3,691.8L528.8,693.9Z"/><ellipse class="p" cx="525.5" cy="696.5" rx="2.0" ry="2.3" transform="rotate(20 525.5 696.5)"/>
<path class="pw" d="M716.4,728.4L698.0,721.0Q695.6,723.0 696.0,726.2L714.4,733.6Z"/><ellipse class="pkw" cx="713.5" cy="730.3" rx="5.8" ry="6.6" transform="rotate(20 713.5 730.3)"/><ellipse class="pkw" cx="715.4" cy="731.0" rx="5.8" ry="6.6" transform="rotate(20 715.4 731.0)" style="stroke-width:1.8"/><path class="pk" d="M719.7,733.5L716.0,736.0L712.4,733.8L712.6,729.1L716.3,726.6L719.9,728.8Z"/><ellipse class="p" cx="716.5" cy="731.4" rx="2.1" ry="2.4" transform="rotate(20 716.5 731.4)"/>
<g transform="translate(835,570) scale(0.05627)"><path class="pw" d="M470,340 L235,250 Q180,250 165,310 Q160,370 205,392 L440,470Z"/><ellipse class="pkw" cx="520" cy="450" rx="75" ry="142" transform="rotate(12 520 450)"/><ellipse class="p" cx="505" cy="450" rx="60" ry="125" transform="rotate(12 505 450)"/><path class="pkw" d="M520,315 L565,300 L650,305 L700,360 L725,445 L705,530 L650,580 L560,590 L520,580 Q480,450 520,315Z" style="stroke-width:2"/><path class="pkw" d="M600,335 L650,320 L700,365 L722,445 L702,525 L652,572 L610,560 L585,470 Z" style="stroke-width:1.6"/><path class="pk" d="M520,315 L600,335 M585,470 L535,470 M610,560 L560,590 M565,300 L650,320"/></g>
<!-- 61_bracket4.svg -->
<g transform="translate(395,660) scale(0.09569)">
<path class="pkw" d="M15,790 Q5,750 40,735 Q70,722 100,715 L715,165 L740,125 L790,100 L850,110 L880,85 Q915,75 935,105 Q940,130 915,140 L880,150 L855,215 L830,245 L760,270 L140,835 Q110,870 60,860 Q25,845 15,790Z"/>
<path d="M160,700 L690,225 Q715,215 722,245 L720,265 L195,735 Q165,745 160,700Z" fill="#666" stroke="#000" stroke-width="1.2" vector-effect="non-scaling-stroke"/>
<path d="M195,705 L700,252 L712,262 L715,272 L200,733 Q185,725 195,705Z" fill="#fff" stroke="#000" stroke-width="0.8" vector-effect="non-scaling-stroke"/>
<ellipse class="pk" cx="85" cy="790" rx="22" ry="30" transform="rotate(20 85 790)"/>
<ellipse class="pk" cx="800" cy="185" rx="20" ry="28" transform="rotate(20 800 185)"/>
<path class="p" d="M40,745 Q25,790 45,840 M715,165 L770,120 M880,150 Q870,120 885,95"/>
<ellipse class="p" cx="908" cy="112" rx="14" ry="18"/>
</g>

<!-- 62_grommets.py -->
<ellipse class="pkw" cx="759.5" cy="558.6" rx="8.4" ry="11.8" transform="rotate(8 759.5 558.6)"/><ellipse class="pkw" cx="762.7" cy="559.5" rx="8.4" ry="11.8" transform="rotate(8 762.7 559.5)"/><ellipse class="pkw" cx="765.8" cy="560.3" rx="8.4" ry="11.8" transform="rotate(8 765.8 560.3)"/><ellipse class="pkw" cx="769.0" cy="561.2" rx="8.4" ry="11.8" transform="rotate(8 769.0 561.2)"/><ellipse class="pk" cx="769.0" cy="561.2" rx="4.7" ry="6.6" transform="rotate(8 769.0 561.2)"/><ellipse class="p" cx="769.8" cy="561.6" rx="3.4" ry="5.0" transform="rotate(8 769.0 561.2)"/>
<ellipse class="pkw" cx="646.0" cy="708.2" rx="7.6" ry="9.8" transform="rotate(8 646.0 708.2)"/><ellipse class="pkw" cx="648.8" cy="709.2" rx="7.6" ry="9.8" transform="rotate(8 648.8 709.2)"/><ellipse class="pkw" cx="651.5" cy="710.2" rx="7.6" ry="9.8" transform="rotate(8 651.5 710.2)"/><ellipse class="pk" cx="651.5" cy="710.2" rx="3.8" ry="4.9" transform="rotate(8 651.5 710.2)"/><ellipse class="p" cx="652.3" cy="710.6" rx="2.7" ry="3.7" transform="rotate(8 651.5 710.2)"/>
<path class="pw" d="M810,571 l-3.5,-0.8 q-3.2,0.8 -3.2,5 q0.3,4 3.8,4.6 l3.5,0.6Z"/>
<ellipse class="pw" cx="818" cy="577.8" rx="9.8" ry="12.8" transform="rotate(8 818 577.8)"/>
<ellipse class="p" cx="817.2" cy="577.8" rx="9.4" ry="12.4" transform="rotate(8 817 577.8)"/>
<ellipse class="p" cx="817.6" cy="577.8" rx="2.6" ry="3.3"/>
<!-- 63_clips16.svg -->
<g transform="translate(540,340) scale(0.14634)">
<!-- clip upper -->
<path class="pkw" d="M258,470 L262,560 L322,582 L345,575 L340,485 L318,475 L285,462 Z"/>
<path class="pk" d="M318,475 L322,582 M262,500 L318,515 M330,482 L334,578"/>
<ellipse class="pk" cx="288" cy="532" rx="15" ry="19"/>
<path class="pk" d="M270,480 L280,470 L300,476 L300,490"/>
<!-- clip lower -->
<path class="pkw" d="M422,528 L426,615 L486,636 L508,630 L503,540 L482,530 L448,518 Z"/>
<path class="pk" d="M482,530 L486,636 M426,556 L482,570 M494,538 L498,632"/>
<ellipse class="pk" cx="452" cy="588" rx="15" ry="19"/>
<path class="pk" d="M434,536 L444,526 L464,532 L464,546"/>
</g>

<!-- 64_tube25.svg -->
<g transform="translate(520,100) scale(0.28169)">
<path d="M122,632 L113,318 L160,272 Q180,262 195,275 L202,305" fill="none" stroke="#222" stroke-width="4.7" stroke-linecap="butt" stroke-linejoin="round" vector-effect="non-scaling-stroke"/>
<path d="M122,630 L113,318 L160,272 Q180,262 195,275 L202,303" fill="none" stroke="#fff" stroke-width="3" stroke-linecap="butt" stroke-linejoin="round" vector-effect="non-scaling-stroke"/>
</g>

<!-- 65_fwd.svg -->
<g transform="translate(40,760) scale(0.12520)">
<path class="pw" d="M235,572 L415,338 L455,365 L470,360 L685,252 L735,285 L745,415 L480,555 L490,620 L275,595 Z"/>
<path class="p" d="M275,595 L455,365 L465,412 L735,285 M465,412 L480,555 M470,360 L465,412"/>
</g>
<text transform="translate(96.8,830.2) rotate(-27.5) skewX(-14) scale(0.66,1)" font-size="22.5" font-weight="bold" style="font-family:'Liberation Serif',serif">FWD</text>

<!-- 95_labels.py -->
<g transform="translate(323.5,119.0) scale(0.69,1)"><text x="-12.24" font-size="22" font-weight="bold">2</text><text x="0.00" font-size="22" font-weight="bold">0</text></g>
<path class="ld" d="M333.3,110.2L364.9,110.2"/>
<g transform="translate(206.0,274.9) scale(0.69,1)"><text x="-12.24" font-size="22" font-weight="bold">2</text><text x="0.00" font-size="22" font-weight="bold">0</text></g>
<path class="ld" d="M216.0,266.5L245.0,266.5"/>
<g transform="translate(435.6,232.6) scale(0.69,1)"><text x="-12.24" font-size="22" font-weight="bold">2</text><text x="0.00" font-size="22" font-weight="bold">1</text></g>
<path class="ld" d="M435.6,180.7L435.6,211.8"/>
<g transform="translate(497.8,228.7) scale(0.69,1)"><text x="-12.24" font-size="22" font-weight="bold">2</text><text x="0.00" font-size="22" font-weight="bold">2</text></g>
<path class="ld" d="M456.9,221.3L489.3,221.3"/>
<g transform="translate(216.7,337.4) scale(0.69,1)"><text x="-12.24" font-size="22" font-weight="bold">1</text><text x="0.00" font-size="22" font-weight="bold">8</text></g>
<path class="ld" d="M226.8,328.5L257.4,328.5"/>
<g transform="translate(271.6,419.9) scale(0.69,1)"><text x="-12.24" font-size="22" font-weight="bold">1</text><text x="0.00" font-size="22" font-weight="bold">8</text></g>
<path class="ld" d="M272.6,370.0L272.6,400.7"/>
<g transform="translate(124.0,457.4) scale(0.69,1)"><text x="-12.24" font-size="22" font-weight="bold">1</text><text x="0.00" font-size="22" font-weight="bold">9</text></g>
<path class="ld" d="M124.7,406.8L124.7,437.3"/>
<g transform="translate(321.4,393.9) scale(0.69,1)"><text x="-12.24" font-size="22" font-weight="bold">1</text><text x="0.00" font-size="22" font-weight="bold">7</text></g>
<path class="ld" d="M330.5,385.3L362.0,385.3"/>
<g transform="translate(465.8,372.5) scale(0.69,1)"><text x="-12.24" font-size="22" font-weight="bold">1</text><text x="0.00" font-size="22" font-weight="bold">2</text></g>
<path class="ld" d="M465.4,376.4L465.4,407.3"/>
<g transform="translate(579.8,372.8) scale(0.69,1)"><text x="-12.24" font-size="22" font-weight="bold">1</text><text x="0.00" font-size="22" font-weight="bold">6</text></g>
<path class="ld" d="M579.2,375.9L579.2,408.1"/>
<g transform="translate(655.4,436.5) scale(0.69,1)"><text x="-12.24" font-size="22" font-weight="bold">1</text><text x="0.00" font-size="22" font-weight="bold">6</text></g>
<path class="ld" d="M614.7,429.0L647.6,429.0"/>
<g transform="translate(855.7,479.9) scale(0.69,1)"><text x="-12.24" font-size="22" font-weight="bold">1</text><text x="0.00" font-size="22" font-weight="bold">3</text></g>
<path class="ld" d="M817.9,472.0L846.2,472.0"/>
<g transform="translate(992.2,347.4) scale(0.69,1)"><text x="-12.24" font-size="22" font-weight="bold">1</text><text x="0.00" font-size="22" font-weight="bold">4</text></g>
<path class="ld" d="M951.8,339.5L983.8,339.5"/>
<g transform="translate(1145.8,257.4) scale(0.69,1)"><text x="-12.24" font-size="22" font-weight="bold">1</text><text x="0.00" font-size="22" font-weight="bold">5</text></g>
<path class="ld" d="M1106.1,250.0L1137.1,250.0"/>
<g transform="translate(995.2,227.7) scale(0.69,1)"><text x="-6.12" font-size="22" font-weight="bold">8</text></g>
<path class="ld" d="M995.9,229.7L995.9,260.6"/>
<g transform="translate(1149.5,401.0) scale(0.69,1)"><text x="-6.12" font-size="22" font-weight="bold">8</text></g>
<path class="ld" d="M1149.5,349.8L1149.5,380.8"/>
<g transform="translate(815.8,555.2) scale(0.69,1)"><text x="-12.24" font-size="22" font-weight="bold">1</text><text x="0.00" font-size="22" font-weight="bold">2</text></g>
<path class="ld" d="M775.4,550.2L806.9,550.2"/>
<g transform="translate(863.9,572.0) scale(0.69,1)"><text x="-12.24" font-size="22" font-weight="bold">1</text><text x="0.00" font-size="22" font-weight="bold">1</text></g>
<path class="ld" d="M818.8,565.4L853.5,565.4"/>
<g transform="translate(916.7,603.5) scale(0.69,1)"><text x="-12.24" font-size="22" font-weight="bold">1</text><text x="0.00" font-size="22" font-weight="bold">0</text></g>
<path class="ld" d="M875.8,595.1L908.0,595.1"/>
<g transform="translate(766.2,612.2) scale(0.69,1)"><text x="-6.12" font-size="22" font-weight="bold">8</text></g>
<path class="ld" d="M728.3,604.3L759.3,604.3"/>
<g transform="translate(909.2,654.3) scale(0.69,1)"><text x="-6.12" font-size="22" font-weight="bold">8</text></g>
<path class="ld" d="M870.8,646.4L903.0,646.4"/>
<g transform="translate(781.6,720.7) scale(0.69,1)"><text x="-6.12" font-size="22" font-weight="bold">9</text></g>
<path class="ld" d="M782.4,668.7L782.4,702.2"/>
<g transform="translate(647.6,769.0) scale(0.69,1)"><text x="-6.12" font-size="22" font-weight="bold">6</text></g>
<path class="ld" d="M649.0,718.9L649.0,749.9"/>
<g transform="translate(713.2,788.7) scale(0.69,1)"><text x="-6.12" font-size="22" font-weight="bold">7</text></g>
<path class="ld" d="M713.8,737.2L713.8,769.6"/>
<g transform="translate(481.4,708.5) scale(0.69,1)"><text x="-6.12" font-size="22" font-weight="bold">5</text></g>
<path class="ld" d="M487.0,700.6L518.0,700.6"/>
<g transform="translate(404.5,694.4) scale(0.69,1)"><text x="-6.12" font-size="22" font-weight="bold">4</text></g>
<path class="ld" d="M405.4,696.3L405.4,725.9"/>
<g transform="translate(260.3,545.7) scale(0.69,1)"><text x="-6.12" font-size="22" font-weight="bold">1</text></g>
<path class="ld" d="M261.3,545.9L261.3,577.4"/>
<g transform="translate(288.7,648.1) scale(0.69,1)"><text x="-6.12" font-size="22" font-weight="bold">1</text></g>
<path class="ld" d="M289.3,597.6L289.3,628.0"/>
<g transform="translate(300.9,525.4) scale(0.69,1)"><text x="-6.12" font-size="22" font-weight="bold">2</text></g>
<path class="ld" d="M300.9,526.7L300.9,560.1"/>
<g transform="translate(327.2,626.9) scale(0.69,1)"><text x="-6.12" font-size="22" font-weight="bold">2</text></g>
<path class="ld" d="M327.6,575.3L327.6,607.8"/>
<g transform="translate(331.3,509.2) scale(0.69,1)"><text x="-6.12" font-size="22" font-weight="bold">3</text></g>
<path class="ld" d="M331.7,510.4L331.7,542.9"/>
<g transform="translate(357.0,611.6) scale(0.69,1)"><text x="-6.12" font-size="22" font-weight="bold">3</text></g>
<path class="ld" d="M357.6,561.1L357.6,593.6"/>
<g transform="translate(744.5,218.6) scale(0.69,1)"><text x="-12.24" font-size="22" font-weight="bold">2</text><text x="0.00" font-size="22" font-weight="bold">3</text></g>
<text transform="translate(398.3,667.2) scale(1.05,1)" font-size="14.5" font-weight="bold" text-anchor="middle" font-family="Liberation Sans" >24</text>
<path class="ld" d="M396.9,605.0L396.9,648.0"/>
<text transform="translate(567.9,128.3) scale(0.94,1)" font-size="17.7" font-weight="bold" text-anchor="middle" font-family="Liberation Sans" >25</text>
<path class="ld" d="M567.3,136.0L567.3,173.8"/>
<g transform="translate(684.0,171.7) scale(0.675,1)"><text x="0.00" font-size="22.5" font-weight="bold">1</text><text x="12.51" font-size="22.5" font-weight="bold">/</text><text x="18.76" font-size="22.5" font-weight="bold">2</text><text x="31.28" font-size="22.5" font-weight="bold">/</text><text x="37.53" font-size="22.5" font-weight="bold">3</text><text x="50.04" font-size="22.5" font-weight="bold">/</text><text x="56.29" font-size="22.5" font-weight="bold">6</text><text x="68.81" font-size="22.5" font-weight="bold">/</text><text x="75.06" font-size="22.5" font-weight="bold">1</text><text x="87.57" font-size="22.5" font-weight="bold">3</text><text x="100.09" font-size="22.5" font-weight="bold">/</text><text x="106.34" font-size="22.5" font-weight="bold">1</text><text x="118.85" font-size="22.5" font-weight="bold">4</text><text x="131.36" font-size="22.5" font-weight="bold">/</text><text x="137.61" font-size="22.5" font-weight="bold">1</text><text x="150.13" font-size="22.5" font-weight="bold">6</text><text x="162.64" font-size="22.5" font-weight="bold">/</text><text x="168.89" font-size="22.5" font-weight="bold">1</text><text x="181.41" font-size="22.5" font-weight="bold">7</text></g>
<text transform="translate(823.0,171.2) scale(0.8,1)" font-size="20" font-weight="normal" text-anchor="middle" font-family="Liberation Sans" >/</text>
<text transform="translate(837.5,166.9) scale(1.0,1)" font-size="15" font-weight="bold" text-anchor="middle" font-family="Liberation Sans" >24</text>
<path class="ld" d="M680.6,163.4V173.8H732.7L744.5,198L756,173.8H846.8V156.3"/>
</svg>
</body></html>
